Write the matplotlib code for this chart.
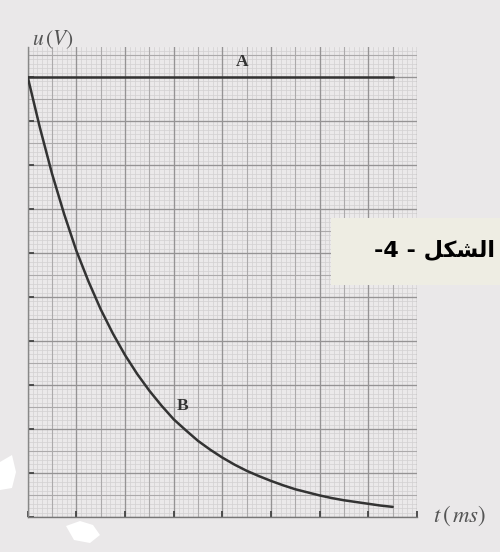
import numpy as np
import matplotlib
matplotlib.use("Agg")
import matplotlib.pyplot as plt
from matplotlib.patches import Rectangle, Polygon

plt.rcParams['mathtext.fontset'] = 'stix'

# ---- data ----
t_ms = [0, 0.5, 1, 1.5, 2, 2.5, 3, 3.5, 4, 4.5, 5, 5.5, 6, 6.5, 7, 7.5,
        8, 8.5, 9, 9.5, 10, 10.5, 11, 11.5, 12, 12.5, 13, 13.5, 14, 14.5, 15]
u_B = [10.0, 8.85, 7.8, 6.88, 6.05, 5.35, 4.72, 4.17, 3.68, 3.25, 2.87, 2.53,
       2.22, 1.97, 1.73, 1.53, 1.35, 1.19, 1.05, 0.93, 0.82, 0.72, 0.63, 0.56,
       0.49, 0.43, 0.38, 0.34, 0.30, 0.26, 0.23]
t_A = [0, 15]
u_A = [10, 10]
x_ticks = [0, 2, 4, 6, 8, 10, 12, 14, 16]
y_ticks = [0, 1, 2, 3, 4, 5, 6, 7, 8, 9, 10]
fig_label = "-4 - " + "\uFEDE\uFEDC\uFEB8\uFEDF\uFE8D"  # الشكل - 4- (visual order)

W, H = 500, 552
fig = plt.figure(figsize=(W / 100, H / 100), dpi=100)
fig.patch.set_facecolor('#eae8e9')

ax = fig.add_axes([27.7 / W, 1 - 517 / H, (417 - 27.7) / W, (517 - 47) / H])
ax.set_facecolor('#ebe9ea')
ax.set_xlim(0, 16)
ax.set_ylim(0, 10.68)

# graph-paper grid
for x in np.arange(0, 16.01, 0.2):
    ax.axvline(x, color='#d2d0d1', lw=0.5, zorder=0.5)
for y in np.arange(0, 10.69, 0.1):
    ax.axhline(y, color='#d2d0d1', lw=0.5, zorder=0.5)
for x in np.arange(0, 16.01, 1):
    ax.axvline(x, color='#acaaab', lw=0.8, zorder=0.6)
for y in np.arange(0, 10.69, 0.5):
    ax.axhline(y, color='#acaaab', lw=0.8, zorder=0.6)
for x in x_ticks:
    ax.axvline(x, color='#959394', lw=0.9, zorder=0.7)
for y in y_ticks:
    ax.axhline(y, color='#959394', lw=0.9, zorder=0.7)

ax.plot(t_A, u_A, color='#333333', lw=1.8, zorder=3)
ax.plot(t_ms, u_B, color='#333333', lw=1.8, zorder=3, solid_capstyle='round')

ax.set_xticks(x_ticks)
ax.set_yticks(y_ticks)
ax.tick_params(direction='in', length=4.5, width=1.3, color='#444444',
               labelbottom=False, labelleft=False)
for s in ['top', 'right']:
    ax.spines[s].set_visible(False)
ax.spines['left'].set_color('#888888')
ax.spines['bottom'].set_color('#777777')
ax.spines['left'].set_linewidth(1.0)
ax.spines['bottom'].set_linewidth(1.0)

ax.text(8.8, 10.33, 'A', fontfamily='Liberation Serif', fontweight='bold',
        fontsize=12.5, color='#333333', ha='center', va='center')
ax.text(6.35, 2.52, 'B', fontfamily='Liberation Serif', fontweight='bold',
        fontsize=12.5, color='#333333', ha='center', va='center')

fig.text(32 / W, 1 - 40 / H, r'$u\,(V)$', fontsize=15.5, color='#555555',
         ha='left', va='center')
fig.text(433 / W, 1 - 516 / H, r'$t\,(\,ms)$', fontsize=16.5, color='#555555',
         ha='left', va='center')

# caption box
fig.patches.append(Rectangle((331 / W, 1 - 285 / H), 169 / W, 67 / H,
                             transform=fig.transFigure, facecolor='#eeede3',
                             edgecolor='none', zorder=5))
fig.text(434 / W, 1 - 250 / H, fig_label, fontfamily='DejaVu Sans',
         fontweight='bold', fontsize=16, color='black', ha='center',
         va='center', zorder=6)

# scan artefacts (white blots)
fig.patches.append(Polygon([(0 / W, 1 - 462 / H), (12 / W, 1 - 455 / H),
                            (16 / W, 1 - 472 / H), (12 / W, 1 - 488 / H),
                            (0 / W, 1 - 490 / H)], closed=True,
                           transform=fig.transFigure, facecolor='white',
                           edgecolor='none', zorder=5))
fig.patches.append(Polygon([(66 / W, 1 - 526 / H), (80 / W, 1 - 521 / H),
                            (93 / W, 1 - 525 / H), (100 / W, 1 - 535 / H),
                            (90 / W, 1 - 543 / H), (74 / W, 1 - 540 / H)],
                           closed=True, transform=fig.transFigure,
                           facecolor='white', edgecolor='none', zorder=5))

fig.savefig('out.png', dpi=100, facecolor=fig.get_facecolor())
